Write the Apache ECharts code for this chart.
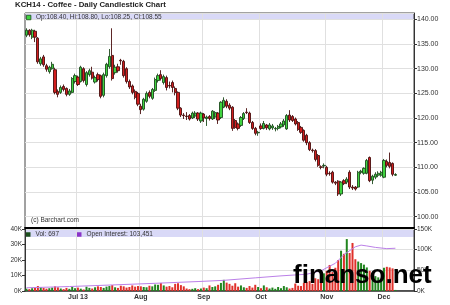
<!DOCTYPE html>
<html><head><meta charset="utf-8">
<script src="https://cdn.jsdelivr.net/npm/echarts@6/dist/echarts.min.js"></script>
<style>html,body{margin:0;padding:0;background:#fff}#c{width:450px;height:305px}</style>
</head><body><div id="c"></div>
<script>
const titleText = 'KCH14 - Coffee - Daily Candlestick Chart';
const copyrightText = '(c) Barchart.com';
const watermarkText = 'finanso.net';
const firstDate = '2013-06-05';
const holidays = ['2013-07-04', '2013-09-02', '2013-11-28'];
const emptyFutureDays = 6;
const monthStarts = ['2013-07-01', '2013-08-01', '2013-09-03', '2013-10-01', '2013-11-01', '2013-12-02'];
const monthNames = ['Jul 13', 'Aug', 'Sep', 'Oct', 'Nov', 'Dec'];

// [open, close, low, high]
const ohlc = [
  [136.8,137.8,136.4,138.2],[137.8,136.9,136.5,138.0],[136.4,137.8,136.0,138.1],[137.6,136.4,135.4,137.9],
  [136.2,131.4,131.0,136.4],[131.0,132.0,130.6,132.4],[132.4,130.8,130.4,132.8],[130.6,129.9,129.4,131.0],
  [129.4,130.3,129.0,130.6],[130.0,130.9,129.8,131.4],[129.8,125.2,124.8,130.2],[125.4,124.8,124.2,125.8],
  [125.2,126.2,124.9,126.6],[126.4,125.8,125.4,126.8],[126.0,124.8,124.4,126.2],[124.8,125.5,124.5,125.9],
  [125.2,128.0,125.0,128.3],[127.4,128.6,127.0,129.0],[128.3,126.8,126.5,128.6],[127.4,130.3,127.2,130.6],
  [130.0,127.6,127.2,130.3],[126.8,129.2,126.4,129.5],[128.8,129.6,128.4,130.0],[129.3,128.1,127.8,130.4],
  [127.3,128.2,127.0,128.6],[128.8,127.8,127.4,129.2],[128.6,124.4,124.0,128.8],[124.6,128.8,124.2,129.2],
  [128.6,130.9,128.2,131.2],[130.4,132.5,130.0,134.0],[132.7,128.0,127.6,138.2],[129.2,130.3,128.8,130.8],
  [130.4,129.6,129.2,131.0],[131.7,131.6,130.8,132.0],[131.5,128.6,128.2,131.8],[130.0,127.4,127.0,130.3],
  [127.4,126.3,125.9,127.8],[126.5,125.2,124.8,126.8],[125.4,124.2,123.8,125.8],[125.0,122.8,122.4,125.3],
  [122.4,121.7,120.8,122.9],[121.8,123.8,121.5,124.1],[123.4,125.0,123.1,125.4],[125.2,124.4,124.0,125.6],
  [124.0,125.8,123.7,126.1],[125.6,127.8,125.3,128.2],[127.6,128.6,127.2,129.0],[128.8,128.0,127.6,129.7],
  [127.2,128.4,126.8,128.8],[128.2,126.2,125.6,128.6],[126.6,126.5,126.0,127.4],[127.2,126.2,125.2,127.6],
  [126.0,125.2,124.6,126.4],[125.2,122.0,121.6,125.4],[122.0,120.6,120.2,122.2],[120.6,120.5,119.8,121.0],
  [120.4,120.3,119.6,121.2],[120.5,119.8,119.5,120.8],[120.0,121.0,119.8,121.3],[120.4,121.0,120.0,121.4],
  [121.0,119.8,119.4,121.2],[119.4,121.0,119.0,121.3],[120.8,120.0,119.2,121.0],[119.9,120.2,118.4,120.5],
  [120.3,119.9,119.5,120.6],[119.8,121.4,119.6,121.6],[120.2,121.1,119.8,121.4],[121.0,119.6,118.8,121.2],
  [120.1,123.2,119.8,123.4],[122.2,123.6,122.0,124.2],[123.4,122.4,122.0,123.8],[122.6,122.0,121.6,123.0],
  [122.2,117.9,117.4,122.4],[119.5,118.1,117.8,119.8],[118.8,117.9,117.5,119.1],[118.5,120.1,118.2,120.4],
  [119.9,120.9,119.6,121.2],[121.2,121.1,120.8,122.0],[121.0,119.1,118.8,121.3],[119.1,117.9,117.6,119.4],
  [117.9,116.9,116.5,118.2],[117.0,117.1,116.4,117.4],[118.4,117.9,117.6,118.9],[117.9,118.9,117.7,119.4],
  [118.6,118.0,117.6,118.8],[117.8,118.6,117.5,119.0],[118.0,118.4,117.6,118.8],[117.8,117.9,117.3,118.2],
  [117.9,118.3,117.5,118.6],[118.2,118.8,117.9,119.2],[118.6,119.4,118.2,119.8],[117.8,120.5,117.6,120.8],
  [120.6,119.6,119.2,121.6],[120.3,119.5,119.2,120.6],[119.8,118.8,118.5,120.1],[119.1,117.7,117.4,119.4],
  [118.1,117.1,116.8,118.4],[117.5,115.5,115.2,117.7],[116.5,115.0,114.5,116.8],[115.0,113.6,113.3,115.3],
  [113.5,113.4,113.0,113.8],[113.4,111.6,111.2,113.7],[112.4,110.4,110.1,112.7],[110.1,110.0,109.6,110.4],
  [110.3,110.4,109.8,110.8],[110.0,108.6,108.2,110.3],[108.8,108.7,108.3,109.2],[109.0,107.0,106.7,109.3],
  [107.0,106.8,106.4,107.2],[107.2,104.6,104.2,107.4],[104.6,107.0,104.2,107.2],[107.3,106.7,106.4,107.6],
  [107.0,107.6,106.6,108.0],[109.0,106.0,105.6,109.4],[106.0,105.8,105.4,106.4],[106.0,105.6,105.3,106.2],
  [106.0,109.0,105.8,109.3],[109.0,109.2,108.6,109.5],[108.8,109.8,108.5,110.0],[108.8,111.4,108.6,111.7],
  [112.0,107.3,107.0,112.2],[107.4,108.2,106.6,108.5],[108.0,108.6,107.6,109.0],[108.4,108.8,108.0,109.2],
  [108.4,109.0,108.1,109.3],[108.0,111.4,107.8,111.7],[111.2,110.4,110.0,111.6],[111.0,110.2,109.8,113.0],
  [110.8,108.6,108.2,111.0],[108.40,108.55,108.25,108.80]
];

// daily volume, contracts
const volume = [
  1500,1200,1800,2000,3200,2500,2000,1500,1800,2200,3000,2400,1600,1200,2000,1400,2600,1800,
  2200,1500,1000,2800,2000,1600,2400,3000,2600,2000,2800,3200,3800,2400,2000,3400,3000,2200,2600,3600,2800,3200,
  3000,2600,2400,3400,3000,4200,4000,5200,3600,2800,3200,2400,4600,5000,3800,3000,1600,1200,1400,1800,1200,1600,
  2200,1800,3600,2600,3000,4000,5200,7200,5400,4600,3400,5000,2800,3600,2400,2000,3200,2200,4000,2600,
  1800,3600,2400,1600,2200,1400,2600,1800,3200,2400,1600,2000,4800,3400,3200,5200,5800,6400,4600,8200,7600,8800,11400,
  13000,16800,12200,15000,20000,26000,24000,33500,24500,31000,20500,19000,18000,17000,15200,13000,10800,9600,8800,7800,
  15000,15600,15200,14600,697
];

// open interest read at points along the line: [day index, contracts]
const openInterest = [
  [0,7800],[15,10800],[30,14600],[45,18600],[60,22900],[69,25800],[80,31800],[89,36600],
  [98,40600],[103,48800],[106,60000],[108,67000],[111,88000],[115,107000],[117,111000],
  [119,109000],[122,105500],[126,102500],[129,103451]
];

// trading-day categories (weekdays minus exchange holidays), plus empty days on the right
const dates = [];
{
  const d = new Date(firstDate + 'T00:00:00Z');
  while (dates.length < ohlc.length + emptyFutureDays) {
    const s = d.toISOString().slice(0, 10);
    const wd = d.getUTCDay();
    if (wd !== 0 && wd !== 6 && !holidays.includes(s)) dates.push(s);
    d.setUTCDate(d.getUTCDate() + 1);
  }
}
const monthIdx = new Set(monthStarts.map(s => dates.indexOf(s)));
const last = ohlc[ohlc.length - 1];
const lastVol = volume[volume.length - 1];
const lastOI = openInterest[openInterest.length - 1][1];

const FONT = '"Liberation Sans", Arial, sans-serif';
const UP = '#3fd33f', DOWN = '#d21e1e';
const GRID_LINE = '#e0e0e0';

const chart = echarts.init(document.getElementById('c'), null, {renderer: 'canvas'});
chart.setOption({
  animation: false,
  backgroundColor: '#fff',
  textStyle: {fontFamily: FONT},
  title: {
    text: titleText, left: 15, top: 1, padding: 0,
    textStyle: {fontSize: 7.8, fontWeight: 'bold', color: '#222', fontFamily: FONT}
  },
  legend: [
    {
      data: [{name: 'Price', itemStyle: {color: UP, borderColor: '#1d4a1d', borderWidth: 0.8}}],
      left: 26, top: 14, padding: 0, icon: 'rect',
      itemWidth: 4.5, itemHeight: 4.5, selectedMode: false,
      textStyle: {fontSize: 6.5, color: '#333', fontFamily: FONT},
      formatter: () => 'Op:' + last[0].toFixed(2) + ', Hi:' + last[3].toFixed(2) +
        ', Lo:' + last[2].toFixed(2) + ', Cl:' + last[1].toFixed(2)
    },
    {
      data: [{name: 'Vol', itemStyle: {color: '#1c4f1c'}}, {name: 'Open Interest', itemStyle: {color: '#8a34c8'}}],
      left: 26, top: 231, padding: 0, icon: 'rect', itemGap: 18,
      itemWidth: 4.5, itemHeight: 4.5, selectedMode: false,
      textStyle: {fontSize: 6.5, color: '#333', fontFamily: FONT},
      formatter: n => n === 'Vol' ? 'Vol: ' + lastVol.toLocaleString('en-US')
        : 'Open Interest: ' + lastOI.toLocaleString('en-US')
    }
  ],
  grid: [
    {left: 25, right: 36, top: 13, height: 215, show: true, borderColor: '#444', borderWidth: 1},
    {left: 25, right: 36, top: 229, height: 62, show: true, borderColor: '#444', borderWidth: 1}
  ],
  xAxis: [
    {
      type: 'category', gridIndex: 0, data: dates, boundaryGap: true,
      axisLine: {show: true, lineStyle: {color: '#000', width: 2}},
      axisTick: {show: false}, axisLabel: {show: false},
      splitLine: {show: true, interval: (i) => monthIdx.has(i), lineStyle: {color: GRID_LINE, width: 1}}
    },
    {
      type: 'category', gridIndex: 1, data: dates, boundaryGap: true,
      axisLine: {show: true, lineStyle: {color: '#333', width: 1.5}},
      axisTick: {show: false},
      axisLabel: {
        interval: (i) => monthIdx.has(i),
        formatter: v => monthNames[monthStarts.indexOf(v)] || '',
        fontSize: 7, fontWeight: 'bold', color: '#333', margin: 3, fontFamily: FONT
      },
      splitLine: {show: true, interval: (i) => monthIdx.has(i), lineStyle: {color: GRID_LINE, width: 1}}
    }
  ],
  yAxis: [
    {
      type: 'value', gridIndex: 0, position: 'right', min: 97.7, max: 141.3, splitNumber: 9,
      axisLine: {show: true, lineStyle: {color: '#333'}},
      axisTick: {show: true, length: 3, lineStyle: {color: '#333'}},
      axisLabel: {
        fontSize: 7, color: '#333', margin: 3, fontFamily: FONT,
        showMinLabel: false, showMaxLabel: false, formatter: v => v.toFixed(2)
      },
      splitLine: {show: true, lineStyle: {color: GRID_LINE}}
    },
    {
      type: 'value', gridIndex: 1, position: 'left', min: 0, max: 40000, interval: 10000,
      axisLine: {show: true, lineStyle: {color: '#333'}},
      axisTick: {show: true, length: 3, lineStyle: {color: '#333'}},
      axisLabel: {fontSize: 6.5, color: '#333', margin: 3, fontFamily: FONT, formatter: v => (v / 1000) + 'K'},
      splitLine: {show: false}
    },
    {
      type: 'value', gridIndex: 1, position: 'right', min: 0, max: 150000, interval: 50000,
      axisLine: {show: true, lineStyle: {color: '#333'}},
      axisTick: {show: true, length: 3, lineStyle: {color: '#333'}},
      axisLabel: {fontSize: 6.5, color: '#333', margin: 3, fontFamily: FONT, formatter: v => (v / 1000) + 'K'},
      splitLine: {show: true, lineStyle: {color: GRID_LINE}}
    }
  ],
  series: [
    {
      name: 'Price', type: 'candlestick', xAxisIndex: 0, yAxisIndex: 0,
      data: ohlc, barWidth: 2.7,
      itemStyle: {color: UP, color0: DOWN, borderColor: '#1d4a1d', borderColor0: '#4a0e0e', borderWidth: 0.9},
      markLine: {
        silent: true, symbol: ['none', 'none'],
        lineStyle: {opacity: 0},
        label: {
          show: true, position: 'end', distance: 3, formatter: () => last[1].toFixed(2),
          color: '#fff', backgroundColor: '#000', fontSize: 7, padding: [1, 1, 0, 1], fontFamily: FONT
        },
        data: [{yAxis: last[1]}]
      }
    },
    {
      name: 'Vol', type: 'bar', xAxisIndex: 1, yAxisIndex: 1, barWidth: 2,
      itemStyle: {color: '#1c4f1c'},
      data: volume.map((v, i) => ({
        value: v,
        itemStyle: {color: ohlc[i][1] >= ohlc[i][0] ? '#21851f' : '#e0302a'}
      }))
    },
    {
      name: 'Open Interest', type: 'line', xAxisIndex: 1, yAxisIndex: 2,
      data: openInterest, showSymbol: false, symbol: 'none',
      color: '#8a34c8',
      lineStyle: {color: '#bb80e8', width: 1}
    }
  ],
  graphic: [
    {type: 'rect', z: -1, shape: {x: 25.5, y: 13.5, width: 388.5, height: 6.5}, style: {fill: '#d9d9f7'}},
    {type: 'rect', z: -1, shape: {x: 25.5, y: 229.5, width: 388.5, height: 7.5}, style: {fill: '#d9d9f7'}},
    {type: 'text', z: 5, style: {text: copyrightText, x: 31, y: 220, verticalAlign: 'middle',
      font: '6.5px ' + FONT, fill: '#333'}},
    {type: 'text', z: 100, style: {text: watermarkText, x: 293, y: 276, verticalAlign: 'middle',
      font: 'bold 26px ' + FONT, fill: '#000'}}
  ]
});
</script>
</body></html>
